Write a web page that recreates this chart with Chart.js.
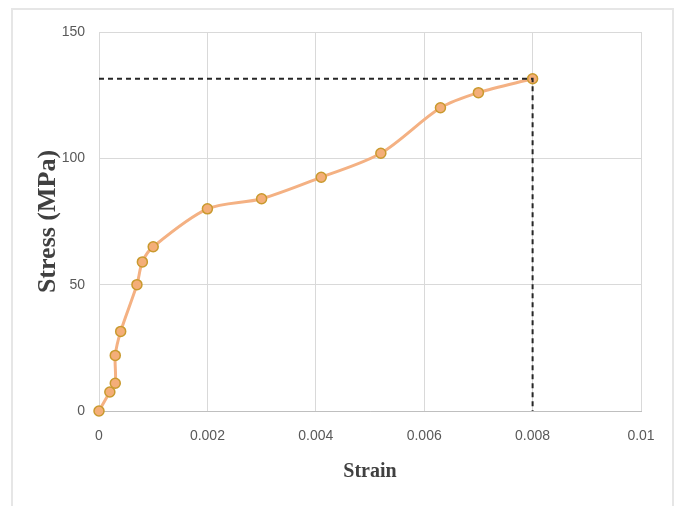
<!DOCTYPE html>
<html>
<head>
<meta charset="utf-8">
<script src="https://cdn.jsdelivr.net/npm/chart.js@4.4.1/dist/chart.umd.min.js"></script>
<style>
  body { margin: 0; background: #fff; overflow: hidden; }
  #wrap { position: relative; width: 677px; height: 506px; }
  #frame { position: absolute; left: 11px; top: 8px; width: 663px; height: 520px; border: 2px solid #e6e6e6; box-sizing: border-box; }
</style>
</head>
<body>
<div id="wrap">
  <div id="frame"></div>
  <canvas id="myChart"></canvas>
</div>
<script>
var strain = [0, 0.0002, 0.0003, 0.0003, 0.0004, 0.0007, 0.0008, 0.001, 0.002, 0.003, 0.0041, 0.0052, 0.0063, 0.007, 0.008];
var stress = [0, 7.5, 11, 22, 31.5, 50, 59, 65, 80, 84, 92.5, 102, 120, 126, 131.5];
var yieldStrain = 0.008;
var yieldStress = 131.5;
var xTicks = [0, 0.002, 0.004, 0.006, 0.008, 0.01];
var yTicks = [0, 50, 100, 150];

var points = strain.map(function(v, i) { return { x: v, y: stress[i] }; });
var guide = [{ x: 0, y: yieldStress }, { x: yieldStrain, y: yieldStress }, { x: yieldStrain, y: 0 }];

var tickFont = { family: "'Liberation Sans', sans-serif", size: 14 };

var ctx = document.getElementById('myChart').getContext('2d');
var myChart = new Chart(ctx, {
  type: 'scatter',
  data: {
    datasets: [{
      label: 'guide',
      data: guide,
      showLine: true,
      borderColor: '#262626',
      borderWidth: 2,
      borderDash: [5, 4],
      pointRadius: 0,
      fill: false
    }, {
      label: 'Stress',
      data: points,
      showLine: true,
      clip: false,
      borderColor: '#F4B183',
      borderWidth: 3,
      tension: 0.3,
      pointRadius: 5,
      pointBorderWidth: 1.5,
      pointBackgroundColor: '#F4AE78',
      pointBorderColor: '#C99A2E',
      fill: false
    }]
  },
  options: {
    responsive: true,
    maintainAspectRatio: false,
    animation: false,
    layout: { padding: { left: 0, right: 36, top: 32, bottom: 0 } },
    plugins: { legend: { display: false }, tooltip: { enabled: false } },
    scales: {
      x: {
        type: 'linear',
        min: 0, max: 0.01,
        afterBuildTicks: function(s) { s.ticks = xTicks.map(function(v) { return { value: v }; }); },
        afterFit: function(s) { s.height = 95; },
        grid: { color: '#d9d9d9', drawTicks: false },
        border: { color: '#bfbfbf' },
        ticks: {
          padding: 17,
          color: '#595959',
          font: tickFont,
          callback: function(v) { return String(Number(v.toFixed(3))); }
        },
        title: {
          display: true, text: 'Strain', color: '#404040',
          font: { family: 'Liberation Serif', size: 20, weight: 'bold' },
          padding: { top: 0, bottom: 22 }
        }
      },
      y: {
        min: 0, max: 150,
        afterBuildTicks: function(s) { s.ticks = yTicks.map(function(v) { return { value: v }; }); },
        afterFit: function(s) { s.width = 99; },
        grid: { color: '#d9d9d9', drawTicks: false },
        border: { display: false },
        ticks: {
          padding: 14,
          color: '#595959',
          font: tickFont
        },
        title: {
          display: true, text: 'Stress (MPa)', color: '#404040',
          font: { family: 'Liberation Serif', size: 26, weight: 'bold' },
          padding: { top: 33, bottom: 0 }
        }
      }
    }
  }
});
</script>
</body>
</html>
